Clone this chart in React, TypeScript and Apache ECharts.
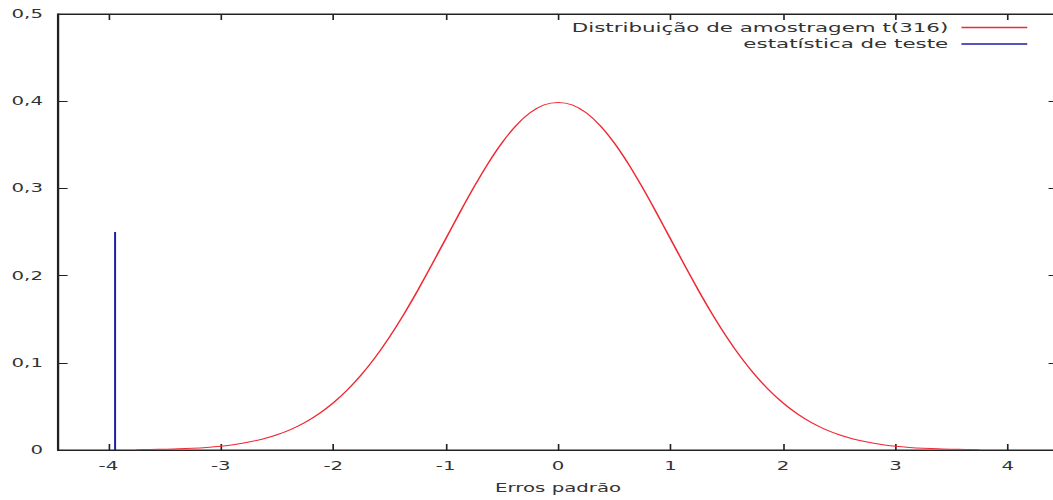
import React, { useEffect, useRef } from "react";
import * as echarts from "echarts";

const tGrid = [
  -3.75, -3.625, -3.5, -3.375, -3.25, -3.125, -3.0, -2.875, -2.75, -2.625, -2.5, -2.375, -2.25, -2.125, -2.0, -1.875,
  -1.75, -1.625, -1.5, -1.375, -1.25, -1.125, -1.0, -0.875, -0.75, -0.625, -0.5, -0.375, -0.25, -0.125, 0,
  0.125, 0.25, 0.375, 0.5, 0.625, 0.75, 0.875, 1.0, 1.125, 1.25, 1.375, 1.5, 1.625, 1.75, 1.875,
  2.0, 2.125, 2.25, 2.375, 2.5, 2.625, 2.75, 2.875, 3.0, 3.125, 3.25, 3.375, 3.5, 3.625, 3.75,
];
const density = [
  0.0004, 0.0006, 0.0009, 0.0013, 0.002, 0.003, 0.0044, 0.0064, 0.0091, 0.0127, 0.0175, 0.0237, 0.0317, 0.0417, 0.054, 0.0688,
  0.0863, 0.1065, 0.1295, 0.155, 0.1826, 0.2121, 0.242, 0.2721, 0.3011, 0.3282, 0.3521, 0.3719, 0.3867, 0.3958, 0.3986,
  0.3958, 0.3867, 0.3719, 0.3521, 0.3282, 0.3011, 0.2721, 0.242, 0.2121, 0.1826, 0.155, 0.1295, 0.1065, 0.0863, 0.0688,
  0.054, 0.0417, 0.0317, 0.0237, 0.0175, 0.0127, 0.0091, 0.0064, 0.0044, 0.003, 0.002, 0.0013, 0.0009, 0.0006, 0.0004,
];
const testStatX = [-3.94, -3.94];
const testStatY = [0, 0.25];
const xTicks = [-4, -3, -2, -1, 0, 1, 2, 3, 4];
const yTicks = [0, 0.1, 0.2, 0.3, 0.4, 0.5];
const curveName = "Distribuição de amostragem t(316)";
const statName = "estatística de teste";
const xName = "Erros padrão";

const FONT = "DejaVu Sans";
const TXT = "#333";
const RED = "#f02a35";
const BLUE = "#1c1ca8";
const BASE_W = 640;
const STRETCH = 1053 / BASE_W;

export default function App() {
  const ref = useRef<HTMLDivElement>(null);
  useEffect(() => {
    if (!ref.current) return;
    const chart = echarts.init(ref.current, null, { renderer: "svg" });
    const fmtY = (v: number) => (Math.abs(v) < 1e-9 ? "0" : v.toFixed(1).replace(".", ","));
    const legendCommon = {
      orient: "horizontal",
      right: 15,
      padding: 0,
      align: "right",
      itemWidth: 40,
      itemHeight: 10,
      itemStyle: { opacity: 0 },
      textStyle: { fontFamily: FONT, fontSize: 13, color: TXT, padding: [0, 3, 0, 0] },
    };
    chart.setOption({
      animation: false,
      textStyle: { fontFamily: FONT },
      grid: {
        left: 35.1,
        top: 14,
        width: 608.2,
        height: 436,
        show: true,
        borderColor: "#222",
        borderWidth: 1,
        containLabel: false,
        outerBoundsMode: "none",
      },
      legend: [
        { ...legendCommon, top: 21, lineStyle: { color: RED, width: 1.3 }, data: [curveName] },
        { ...legendCommon, top: 37.5, lineStyle: { color: BLUE, width: 1.3 }, data: [statName] },
      ],
      xAxis: [
        {
          type: "value",
          min: -4.45,
          max: 4.45,
          position: "bottom",
          name: xName,
          nameLocation: "middle",
          nameGap: 32,
          nameTextStyle: { fontFamily: FONT, fontSize: 12, color: TXT },
          axisLine: { show: true, onZero: false, lineStyle: { color: "#222", width: 1 } },
          axisTick: { show: true, inside: true, length: 6, lineStyle: { color: "#222" }, customValues: xTicks },
          axisLabel: { show: true, customValues: xTicks, margin: 10, fontFamily: FONT, fontSize: 12, color: TXT },
          splitLine: { show: false },
        },
        {
          type: "value",
          min: -4.45,
          max: 4.45,
          position: "top",
          axisLine: { show: true, onZero: false, lineStyle: { color: "#222", width: 1 } },
          axisTick: { show: true, inside: true, length: 6, lineStyle: { color: "#222" }, customValues: xTicks },
          axisLabel: { show: false },
          splitLine: { show: false },
        },
      ],
      yAxis: [
        {
          type: "value",
          min: 0,
          max: 0.5,
          interval: 0.1,
          position: "left",
          axisLine: { show: true, onZero: false, lineStyle: { color: "#222", width: 1 } },
          axisTick: { show: true, inside: true, length: 6, lineStyle: { color: "#222" } },
          axisLabel: { show: true, margin: 9, fontFamily: FONT, fontSize: 12, color: TXT, formatter: fmtY, customValues: yTicks },
          splitLine: { show: false },
        },
        {
          type: "value",
          min: 0,
          max: 0.5,
          interval: 0.1,
          position: "right",
          axisLine: { show: true, onZero: false, lineStyle: { color: "#222", width: 1 } },
          axisTick: { show: true, inside: true, length: 6, lineStyle: { color: "#222" } },
          axisLabel: { show: false },
          splitLine: { show: false },
        },
      ],
      series: [
        {
          name: curveName,
          type: "line",
          xAxisIndex: 0,
          yAxisIndex: 0,
          data: tGrid.map((x, i) => [x, density[i]]),
          smooth: 0.3,
          showSymbol: false,
          symbol: "none",
          color: RED,
          itemStyle: { color: RED },
          lineStyle: { color: RED, width: 1 },
        },
        {
          name: statName,
          type: "line",
          xAxisIndex: 0,
          yAxisIndex: 0,
          data: testStatX.map((x, i) => [x, testStatY[i]]),
          showSymbol: false,
          symbol: "none",
          color: BLUE,
          itemStyle: { color: BLUE },
          lineStyle: { color: BLUE, width: 1.2 },
        },
      ],
    });
    return () => chart.dispose();
  }, []);
  return (
    <div style={{ position: "absolute", left: 0, top: 0, width: 1053, height: 500, overflow: "hidden" }}>
      <div
        ref={ref}
        style={{ width: BASE_W, height: 500, transform: `scaleX(${STRETCH})`, transformOrigin: "0 0" }}
      />
    </div>
  );
}
